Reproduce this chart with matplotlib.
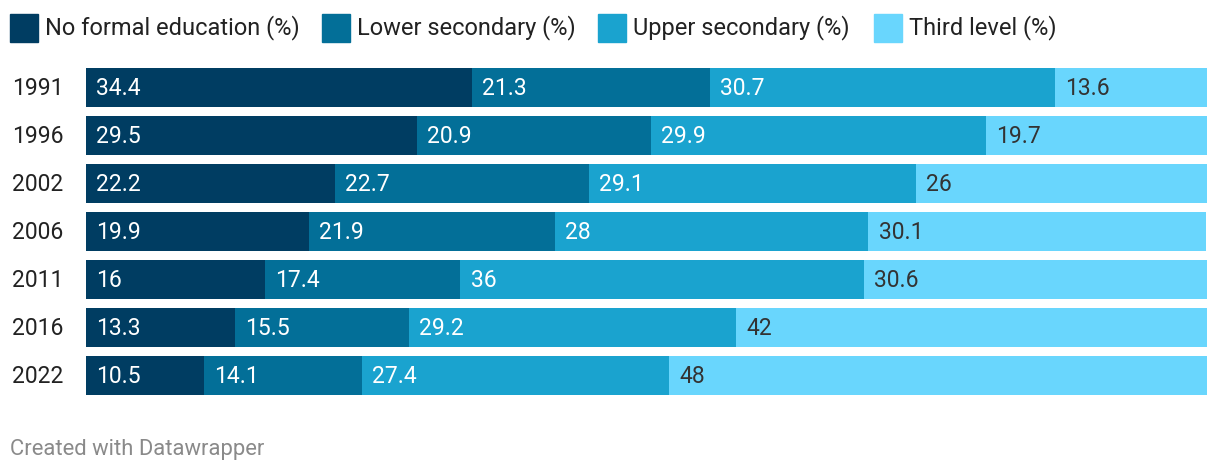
import matplotlib
matplotlib.use("Agg")
import matplotlib.pyplot as plt
from matplotlib.patches import Rectangle
from matplotlib.transforms import blended_transform_factory

plt.rcParams['font.family'] = ['Roboto', 'DejaVu Sans']

years = ['1991', '1996', '2002', '2006', '2011', '2016', '2022']
series = ['No formal education (%)', 'Lower secondary (%)', 'Upper secondary (%)', 'Third level (%)']
no_formal = [34.4, 29.5, 22.2, 19.9, 16, 13.3, 10.5]
lower_sec = [21.3, 20.9, 22.7, 21.9, 17.4, 15.5, 14.1]
upper_sec = [30.7, 29.9, 29.1, 28, 36, 29.2, 27.4]
third_lvl = [13.6, 19.7, 26, 30.1, 30.6, 42, 48]

colors = ['#003d62', '#036f98', '#1aa3cf', '#69d6fd']
text_colors = ['white', 'white', 'white', '#333333']

W, H = 1220, 474
fig = plt.figure(figsize=(W / 100, H / 100), dpi=100)
ax = fig.add_axes([86 / W, 1 - 399.5 / H, (1207 - 86) / W, 336 / H])

values = [no_formal, lower_sec, upper_sec, third_lvl]
left = [0] * len(years)
for k, vals in enumerate(values):
    ax.barh(range(len(years)), vals, left=left, height=0.82, color=colors[k], linewidth=0)
    for i, v in enumerate(vals):
        ax.text(left[i] + 0.9, i + 0.03, f'{v:g}', va='center', ha='left',
                color=text_colors[k], fontsize=16.5)
    left = [l + v for l, v in zip(left, vals)]

ax.set_xlim(0, 100)
ax.set_ylim(len(years) - 0.5, -0.5)
ax.set_xticks([])
ax.set_yticks([])
for s in ax.spines.values():
    s.set_visible(False)

# year labels on the left edge
trans = blended_transform_factory(fig.transFigure, ax.transData)
for i, y in enumerate(years):
    ax.text(12 / W, i + 0.03, y, transform=trans, va='center', ha='left',
            fontsize=16.5, color='#222222')

# legend drawn by hand
leg_x = [10, 322, 598, 874]
for k, name in enumerate(series):
    fig.patches.append(Rectangle((leg_x[k] / W, 1 - 42 / H), 28 / W, 28 / H,
                                 transform=fig.transFigure, color=colors[k]))
    fig.text((leg_x[k] + 35) / W, 1 - 28 / H, name, fontsize=17,
             color='#222222', va='center', ha='left')

fig.text(10 / W, 1 - 449 / H, 'Created with Datawrapper', fontsize=15.8,
         color='#8a8a8a', va='center', ha='left')

fig.savefig('out.png', dpi=100)
